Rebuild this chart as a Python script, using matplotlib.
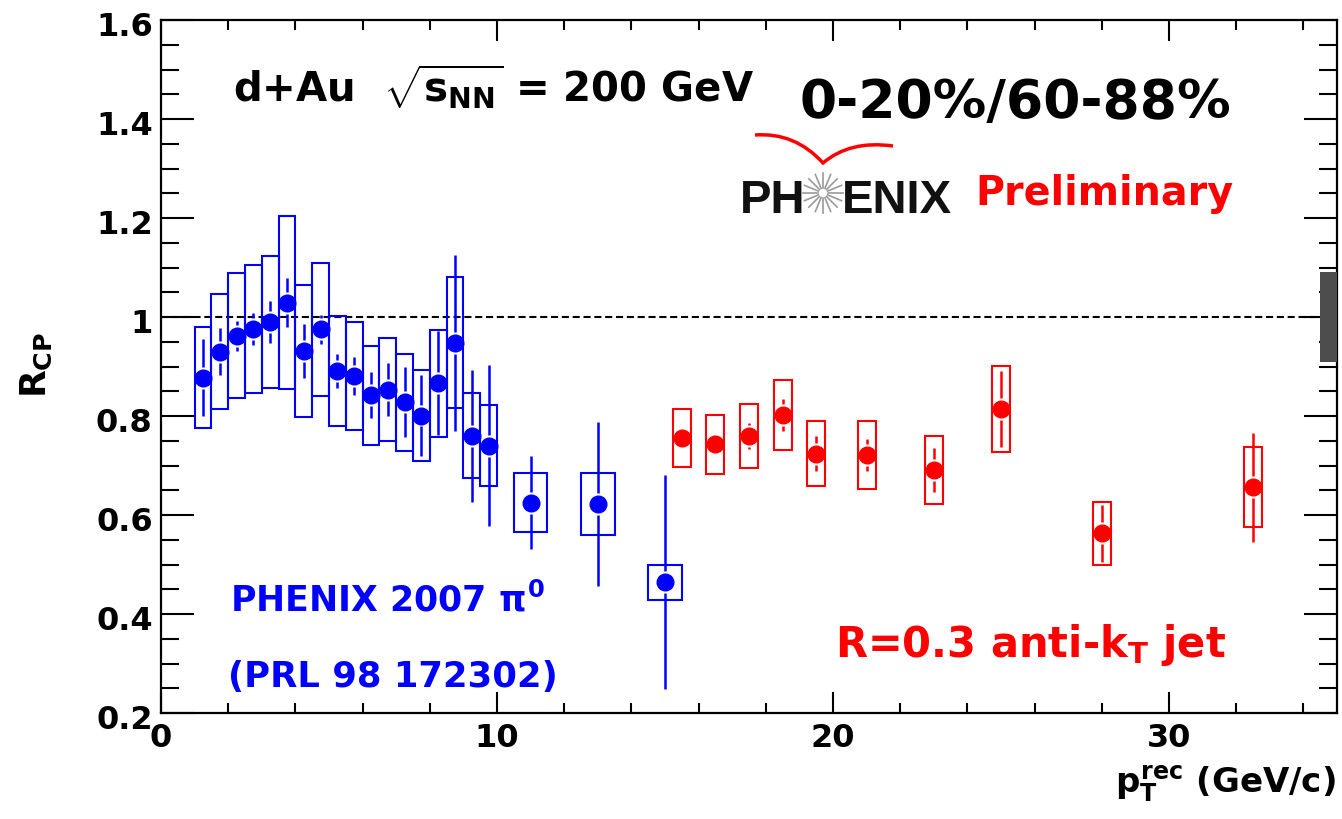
import numpy as np
import matplotlib
matplotlib.use("Agg")
import matplotlib.pyplot as plt
from matplotlib.path import Path
from matplotlib.patches import PathPatch
from matplotlib.transforms import ScaledTranslation

plt.rcParams['font.family'] = ['DejaVu Sans']
plt.rcParams['font.weight'] = 'bold'
plt.rcParams['mathtext.fontset'] = 'custom'
plt.rcParams['mathtext.rm'] = 'DejaVu Sans:bold'
plt.rcParams['mathtext.it'] = 'DejaVu Sans:bold'
plt.rcParams['mathtext.bf'] = 'DejaVu Sans:bold'

# PHENIX 2007 pi0 (PRL 98 172302)
x_pi0 = [1.25, 1.75, 2.25, 2.75, 3.25, 3.75, 4.25, 4.75, 5.25, 5.75, 6.25,
         6.75, 7.25, 7.75, 8.25, 8.75, 9.25, 9.75, 11, 13, 15]
y_pi0 = [0.877, 0.930, 0.962, 0.976, 0.990, 1.029, 0.931, 0.975, 0.891, 0.881,
         0.842, 0.853, 0.828, 0.801, 0.866, 0.948, 0.760, 0.740, 0.625, 0.622, 0.464]
stat_pi0 = [0.078, 0.047, 0.030, 0.032, 0.042, 0.049, 0.055, 0.030, 0.034, 0.038,
            0.046, 0.054, 0.070, 0.081, 0.105, 0.178, 0.133, 0.163, 0.094, 0.166, 0.216]
sys_pi0 = [0.102, 0.116, 0.126, 0.130, 0.134, 0.175, 0.133, 0.135, 0.112, 0.109,
           0.100, 0.104, 0.098, 0.092, 0.108, 0.132, 0.086, 0.082, 0.059, 0.062, 0.036]
bw_pi0 = [0.5] * 18 + [1.0] * 3

# R=0.3 anti-kT jets
x_jet = [15.5, 16.5, 17.5, 18.5, 19.5, 21, 23, 25, 28, 32.5]
y_jet = [0.756, 0.743, 0.760, 0.802, 0.724, 0.721, 0.691, 0.814, 0.563, 0.656]
stat_jet = [0.012, 0.012, 0.026, 0.032, 0.036, 0.032, 0.045, 0.076, 0.057, 0.110]
sys_jet = [0.059, 0.060, 0.065, 0.070, 0.066, 0.069, 0.069, 0.087, 0.064, 0.081]
bw_jet = [0.54] * 10

# global normalisation uncertainty
norm_x = 34.75
norm_err = 0.09

W, H = 1342, 819
fig = plt.figure(figsize=(W / 100, H / 100), dpi=100)
ax = fig.add_axes([161 / W, 1 - 713 / H, (1337 - 161) / W, (713 - 20) / H])


def fpos(px, py):
    return px / W, 1 - py / H


def draw_set(x, y, stat, sys, bw, color):
    x = np.array(x); y = np.array(y)
    stat = np.array(stat); sys = np.array(sys)
    ax.bar(x, 2 * sys, bottom=y - sys, width=bw, fill=False,
           edgecolor=color, linewidth=1.5, zorder=3)
    gap = 0.022
    m = stat > gap
    ax.vlines(x[m], (y - stat)[m], (y - gap)[m], color=color, lw=1.8, zorder=4)
    ax.vlines(x[m], (y + gap)[m], (y + stat)[m], color=color, lw=1.8, zorder=4)
    ax.plot(x, y, 'o', color=color, ms=12, mec=color, zorder=5)


ax.axhline(1.0, color='k', lw=1.5, ls=(0, (3.4, 1.8)), zorder=2)
draw_set(x_pi0, y_pi0, stat_pi0, sys_pi0, bw_pi0, '#0000ff')
draw_set(x_jet, y_jet, stat_jet, sys_jet, bw_jet, '#ff0000')
ax.bar(norm_x, 2 * norm_err, bottom=1 - norm_err, width=0.5,
       color='#4d4d4d', zorder=3)

ax.set_xlim(0, 35)
ax.set_ylim(0.2, 1.6)
ax.set_xticks([0, 10, 20, 30])
ax.set_xticks(np.arange(0, 35, 2), minor=True)
ax.set_yticks([0.2, 0.4, 0.6, 0.8, 1.0, 1.2, 1.4, 1.6])
ax.set_yticks(np.arange(0.2, 1.6, 0.05), minor=True)
ax.set_yticklabels(['0.2', '0.4', '0.6', '0.8', '1', '1.2', '1.4', '1.6'])
ax.tick_params(axis='both', which='both', direction='in', top=True, right=True,
               width=1.5, labelsize=23)
ax.tick_params(axis='x', which='major', length=15, pad=7)
ax.tick_params(axis='x', which='minor', length=7.5)
ax.tick_params(axis='y', which='major', length=24, pad=6)
ax.tick_params(axis='y', which='minor', length=13)
for s in ax.spines.values():
    s.set_linewidth(1.6)
shift = ScaledTranslation(0, -0.04, fig.dpi_scale_trans)
for lab in ax.get_yticklabels():
    lab.set_transform(lab.get_transform() + shift)

# axis titles
fig.text(*fpos(1336, 793), r'$p_{T}^{rec}$ (GeV/c)', ha='right', va='baseline',
         fontsize=24.5)
fig.text(*fpos(36, 365), r'$R_{CP}$', rotation=90, ha='center', va='center',
         fontsize=26)

# header texts
fig.text(*fpos(233, 102), r'd+Au  $\sqrt{s_{NN}}$ = 200 GeV', fontsize=29,
         va='baseline', ha='left')
fig.text(*fpos(800, 118), '0-20%/60-88%', fontsize=38.5, va='baseline', ha='left')

# PHENIX logo
fig.text(*fpos(740, 213), 'PH', fontsize=34, va='baseline', ha='left',
         color='#111111', family='Liberation Sans')
fig.text(*fpos(842, 213), 'ENIX', fontsize=34, va='baseline', ha='left',
         color='#111111', family='Liberation Sans')
cx, cy = 823, 193
for a in np.linspace(0, 2 * np.pi, 16, endpoint=False):
    p0 = fpos(cx + 5 * np.cos(a), cy + 5 * np.sin(a))
    p1 = fpos(cx + 20 * np.cos(a), cy + 20 * np.sin(a))
    fig.add_artist(plt.Line2D([p0[0], p1[0]], [p0[1], p1[1]],
                              transform=fig.transFigure, color='#9a9a9a', lw=1.2))
verts = [fpos(755, 135), fpos(795, 132), fpos(823, 163),
         fpos(850, 140), fpos(893, 146)]
codes = [Path.MOVETO, Path.CURVE3, Path.CURVE3, Path.CURVE3, Path.CURVE3]
fig.add_artist(PathPatch(Path(verts, codes), transform=fig.transFigure,
                         fill=False, edgecolor='#ff0000', lw=2.5))
fig.text(*fpos(975, 205), 'Preliminary', fontsize=28.5, color='#ff0000',
         va='baseline', ha='left')

# legends
fig.text(*fpos(230, 612), r'PHENIX 2007 $\pi^{0}$', fontsize=25, color='#0000ff',
         va='baseline', ha='left')
fig.text(*fpos(228, 687), '(PRL 98 172302)', fontsize=25.5, color='#0000ff',
         va='baseline', ha='left')
fig.text(*fpos(835, 657), r'R=0.3 anti-$k_{T}$ jet', fontsize=30, color='#ff0000',
         va='baseline', ha='left')

fig.savefig('out.png', dpi=100)
